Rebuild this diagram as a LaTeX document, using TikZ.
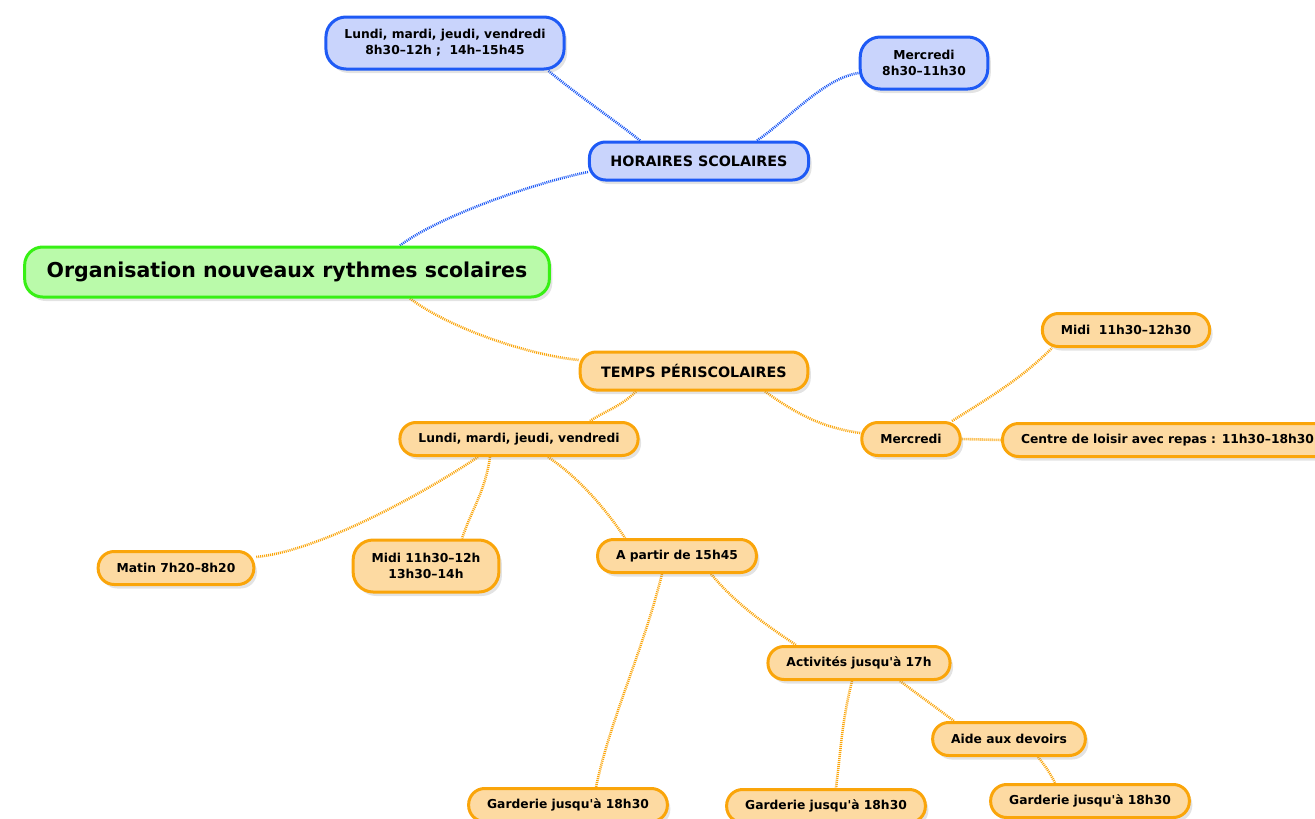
\documentclass[tikz,border=0pt]{standalone}
\usepackage{fontspec}
\setmainfont{DejaVu Sans}
\usepackage{tikz}
\usetikzlibrary{shadows,backgrounds}

\definecolor{hblue}{RGB}{30,90,245}
\definecolor{hfill}{RGB}{201,212,252}
\definecolor{rgreen}{RGB}{55,240,20}
\definecolor{rfill}{RGB}{186,250,170}
\definecolor{porange}{RGB}{250,165,10}
\definecolor{pfill}{RGB}{253,218,162}

\begin{document}
\begin{tikzpicture}[
    x=1pt,y=-1pt,
    box/.style={draw,rounded corners=16pt,line width=3pt,align=center,inner xsep=18.5pt,inner ysep=4pt,
        drop shadow={opacity=0.22,shadow xshift=3pt,shadow yshift=-4pt}},
    leaf/.style={box,font=\fontsize{12.3}{16}\selectfont\bfseries,minimum height=33pt},
    section/.style={box,font=\fontsize{14.3}{17}\selectfont\bfseries,minimum height=38pt,inner xsep=21pt},
    hnode/.style={draw=hblue,fill=hfill},
    pnode/.style={draw=porange,fill=pfill},
    hlink/.style={line width=2.6pt,hblue,dash pattern=on 1pt off 1pt},
    plink/.style={line width=2.6pt,porange,dash pattern=on 1pt off 1pt},
]
    \useasboundingbox (0,0) rectangle (1315,819);

    \node[box,draw=rgreen,fill=rfill,font=\fontsize{20.5}{24}\selectfont\bfseries,minimum height=50pt,inner xsep=22pt,rounded corners=18pt] (root) at (287,272) {Organisation nouveaux rythmes scolaires};

    \node[section,hnode] (horaires) at (699,161) {HORAIRES SCOLAIRES};
    \node[leaf,hnode,minimum height=52pt,rounded corners=20pt] (hlundi) at (445,43) {Lundi, mardi, jeudi, vendredi\\8h30--12h ;\ \ 14h--15h45};
    \node[leaf,hnode,minimum height=52pt,rounded corners=20pt,inner xsep=22pt] (hmercredi) at (924,63) {Mercredi\\8h30--11h30};

    \node[section,pnode] (temps) at (694,371) {TEMPS PÉRISCOLAIRES};
    \node[leaf,pnode] (plundi) at (519,439) {Lundi, mardi, jeudi, vendredi};
    \node[leaf,pnode] (pmercredi) at (911,439) {Mercredi};
    \node[leaf,pnode] (pmidi) at (1126,330) {Midi\ \ 11h30--12h30};
    \node[leaf,pnode,anchor=west] (pcentre) at (1001,440) {Centre de loisir avec repas : 11h30--18h30};

    \node[leaf,pnode] (matin) at (176,568) {Matin 7h20--8h20};
    \node[leaf,pnode,minimum height=52pt,rounded corners=20pt] (midi) at (426,566) {Midi 11h30--12h\\13h30--14h};
    \node[leaf,pnode] (apartir) at (677,556) {A partir de 15h45};
    \node[leaf,pnode] (activites) at (859,663) {Activités jusqu\textquotesingle à 17h};
    \node[leaf,pnode] (aide) at (1009,739) {Aide aux devoirs};
    \node[leaf,pnode] (gard1) at (568,805) {Garderie jusqu\textquotesingle à 18h30};
    \node[leaf,pnode] (gard2) at (826,806) {Garderie jusqu\textquotesingle à 18h30};
    \node[leaf,pnode] (gard3) at (1090,801) {Garderie jusqu\textquotesingle à 18h30};

    \begin{scope}[on background layer]
    \draw[hlink] ([xshift=113pt]root.north) .. controls +(40,-30) and +(-50,10) .. ([yshift=-11pt]horaires.west);
    \draw[hlink] ([xshift=-59pt]horaires.north) .. controls +(-25,-20) and +(30,25) .. ([xshift=103pt]hlundi.south);
    \draw[hlink] ([xshift=58pt]horaires.north) .. controls +(30,-20) and +(-35,5) .. ([yshift=-10pt]hmercredi.west);

    \draw[plink] ([xshift=123pt]root.south) .. controls +(40,30) and +(-50,-5) .. ([yshift=11pt]temps.west);
    \draw[plink] ([xshift=-58pt]temps.south) .. controls +(-15,15) and +(15,-10) .. ([xshift=71pt]plundi.north);
    \draw[plink] ([xshift=71pt]temps.south) .. controls +(35,25) and +(-35,-5) .. ([yshift=6pt]pmercredi.west);
    \draw[plink] ([xshift=41pt]pmercredi.north) .. controls +(40,-25) and +(-30,30) .. ([xshift=-74pt]pmidi.south);
    \draw[plink] (pmercredi.east) -- (pcentre.west);
    \draw[plink] ([xshift=-41pt]plundi.south) .. controls +(-60,40) and +(60,-5) .. ([yshift=11pt]matin.east);
    \draw[plink] ([xshift=-29pt]plundi.south) .. controls +(-5,35) and +(10,-30) .. ([xshift=36pt]midi.north);
    \draw[plink] ([xshift=29pt]plundi.south) .. controls +(30,20) and +(-20,-30) .. ([xshift=-52pt]apartir.north);
    \draw[plink] ([xshift=-15pt]apartir.south) .. controls +(-20,80) and +(15,-70) .. ([xshift=28pt]gard1.north);
    \draw[plink] ([xshift=34pt]apartir.south) .. controls +(25,30) and +(-30,-20) .. ([xshift=-63pt]activites.north);
    \draw[plink] ([xshift=-7pt]activites.south) .. controls +(-10,40) and +(5,-40) .. ([xshift=10pt]gard2.north);
    \draw[plink] ([xshift=41pt]activites.south) .. controls +(20,15) and +(-20,-15) .. ([xshift=-55pt]aide.north);
    \draw[plink] ([xshift=29pt]aide.south) .. controls +(8,10) and +(-5,-10) .. ([xshift=-35pt]gard3.north);
    \end{scope}
\end{tikzpicture}
\end{document}
